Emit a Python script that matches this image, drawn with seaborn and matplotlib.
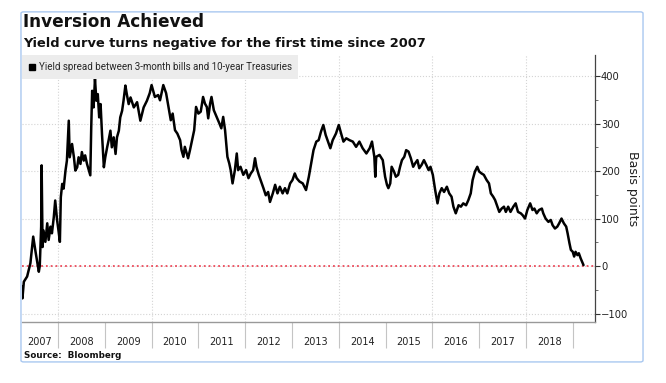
import matplotlib
matplotlib.use('Agg')
import matplotlib.pyplot as plt
import matplotlib.patches as mpatches
from matplotlib.lines import Line2D
from matplotlib.ticker import MultipleLocator
from matplotlib import font_manager
import seaborn as sns

# 3-month vs 10-year spread (decimal year, basis points)
years = [
    2007.23, 2007.24, 2007.27, 2007.34, 2007.41, 2007.47, 2007.52, 2007.59, 2007.61, 2007.64,
    2007.65, 2007.67, 2007.69, 2007.73, 2007.77, 2007.80, 2007.84, 2007.87, 2007.91, 2007.94,
    2007.98, 2008.01, 2008.04, 2008.06, 2008.09, 2008.12, 2008.16, 2008.19, 2008.23, 2008.25,
    2008.30, 2008.34, 2008.37, 2008.41, 2008.44, 2008.48, 2008.51, 2008.55, 2008.58, 2008.62,
    2008.66, 2008.69, 2008.71, 2008.73, 2008.76, 2008.79, 2008.82, 2008.85, 2008.88, 2008.91,
    2008.94, 2008.98, 2009.01, 2009.05, 2009.08, 2009.12, 2009.15, 2009.19, 2009.23, 2009.26,
    2009.30, 2009.33, 2009.37, 2009.40, 2009.44, 2009.47, 2009.51, 2009.55, 2009.62, 2009.69,
    2009.76, 2009.83, 2009.90, 2009.96, 2010.00, 2010.07, 2010.14, 2010.18, 2010.25, 2010.31,
    2010.36, 2010.41, 2010.45, 2010.50, 2010.55, 2010.61, 2010.64, 2010.68, 2010.71, 2010.75,
    2010.78, 2010.82, 2010.88, 2010.91, 2010.95, 2011.00, 2011.05, 2011.10, 2011.14, 2011.18,
    2011.21, 2011.25, 2011.28, 2011.33, 2011.39, 2011.45, 2011.49, 2011.53, 2011.57, 2011.60,
    2011.62, 2011.66, 2011.69, 2011.73, 2011.78, 2011.82, 2011.85, 2011.90, 2011.96, 2012.02,
    2012.07, 2012.12, 2012.17, 2012.21, 2012.24, 2012.29, 2012.33, 2012.39, 2012.44, 2012.49,
    2012.53, 2012.59, 2012.64, 2012.69, 2012.74, 2012.80, 2012.85, 2012.90, 2012.96, 2013.01,
    2013.06, 2013.10, 2013.16, 2013.23, 2013.30, 2013.36, 2013.41, 2013.46, 2013.52, 2013.57,
    2013.62, 2013.67, 2013.72, 2013.77, 2013.82, 2013.87, 2013.94, 2014.00, 2014.05, 2014.10,
    2014.16, 2014.23, 2014.30, 2014.37, 2014.44, 2014.51, 2014.59, 2014.66, 2014.71, 2014.76,
    2014.78, 2014.80, 2014.87, 2014.94, 2014.99, 2015.03, 2015.06, 2015.10, 2015.13, 2015.18,
    2015.22, 2015.27, 2015.31, 2015.35, 2015.40, 2015.44, 2015.49, 2015.54, 2015.59, 2015.63,
    2015.68, 2015.72, 2015.77, 2015.82, 2015.87, 2015.92, 2015.96, 2016.01, 2016.06, 2016.11,
    2016.15, 2016.20, 2016.25, 2016.31, 2016.36, 2016.41, 2016.45, 2016.50, 2016.56, 2016.61,
    2016.66, 2016.72, 2016.77, 2016.82, 2016.86, 2016.91, 2016.96, 2017.00, 2017.05, 2017.10,
    2017.16, 2017.21, 2017.25, 2017.30, 2017.34, 2017.39, 2017.43, 2017.48, 2017.53, 2017.57,
    2017.62, 2017.67, 2017.73, 2017.78, 2017.83, 2017.89, 2017.93, 2017.98, 2018.03, 2018.09,
    2018.14, 2018.18, 2018.23, 2018.28, 2018.34, 2018.37, 2018.42, 2018.48, 2018.53, 2018.57,
    2018.62, 2018.67, 2018.71, 2018.76, 2018.81, 2018.86, 2018.89, 2018.93, 2018.96, 2019.00,
    2019.03, 2019.06, 2019.10, 2019.13, 2019.17, 2019.20, 2019.23,
]
spread = [
    -43, -68, -33, -22, 6, 62, 30, -12, 0, 83,
    212, 40, 75, 51, 90, 55, 83, 69, 103, 138,
    97, 75, 51, 145, 173, 163, 201, 222, 306, 229,
    257, 229, 201, 208, 229, 215, 240, 222, 233, 215,
    201, 191, 292, 369, 334, 394, 348, 362, 313, 341,
    278, 208, 229, 250, 264, 285, 250, 271, 236, 271,
    285, 313, 327, 348, 380, 362, 341, 355, 334, 345,
    306, 334, 348, 364, 381, 356, 360, 349, 381, 364,
    335, 307, 321, 286, 279, 265, 244, 230, 251, 237,
    227, 244, 272, 286, 335, 321, 325, 356, 342, 335,
    311, 342, 356, 328, 314, 300, 290, 314, 286, 251,
    230, 216, 202, 174, 202, 237, 202, 209, 192, 202,
    185, 195, 202, 227, 209, 192, 181, 164, 149, 156,
    135, 153, 171, 153, 167, 153, 164, 153, 174, 181,
    195, 185, 178, 174, 160, 188, 216, 244, 262, 265,
    283, 297, 276, 262, 248, 265, 279, 297, 279, 262,
    269, 265, 262, 251, 262, 248, 237, 248, 262, 230,
    188, 230, 234, 223, 188, 171, 164, 174, 209, 199,
    188, 192, 209, 223, 230, 244, 241, 227, 209, 216,
    223, 206, 213, 223, 213, 202, 209, 192, 160, 132,
    153, 164, 156, 167, 153, 146, 125, 111, 128, 125,
    132, 128, 139, 153, 181, 199, 209, 199, 195, 192,
    181, 174, 153, 146, 139, 125, 114, 121, 125, 114,
    125, 114, 125, 132, 114, 111, 107, 100, 118, 132,
    118, 121, 111, 118, 121, 111, 100, 93, 97, 86,
    79, 83, 90, 100, 90, 83, 69, 48, 34, 30,
    20, 30, 23, 27, 16, 9, 2,
]
year_labels = ['2007', '2008', '2009', '2010', '2011', '2012',
               '2013', '2014', '2015', '2016', '2017', '2018']
y_ticks = [-100, 0, 100, 200, 300, 400]

sns.set_style('white')
plt.rcParams['font.family'] = ['DejaVu Sans']

installed = {f.name for f in font_manager.fontManager.ttflist}
narrow = 'DejaVu Sans'
for cand in ['Liberation Sans Narrow', 'Roboto', 'Lato']:
    if cand in installed:
        narrow = cand
        break

fig = plt.figure(figsize=(6.66, 3.83), dpi=100)
ax = fig.add_axes([0.033, 0.159, 0.860, 0.697])

x_left, x_right = 2007.23, 2019.47
ax.set_xlim(x_left, x_right)
ax.set_ylim(-118, 444)

# grid
ax.grid(axis='y', which='major', ls=':', color='#d4d4d4', lw=0.8)
for yr in range(2008, 2020, 2):
    ax.axvline(yr, ls=':', color='#d4d4d4', lw=0.8, zorder=0)
ax.axhline(0, color='#ec4a5a', ls=':', lw=1.3, zorder=1)

sns.lineplot(x=years, y=spread, ax=ax, color='black', lw=1.8,
             estimator=None, legend=False, zorder=3)

# x axis: year boundaries as ticks, labels centered in each year
ax.set_xticks(list(range(2008, 2020)))
label_pos = [(max(int(y), x_left) + int(y) + 1) / 2 for y in year_labels]
ax.set_xticks(label_pos, minor=True)
ax.set_xticklabels(year_labels, minor=True)
ax.tick_params(axis='x', which='major', length=19, width=0.8, color='#c4c4c4',
               labelbottom=False, bottom=True)
ax.tick_params(axis='x', which='minor', length=0, pad=11, labelsize=7,
               labelcolor='#222222', bottom=True)

# y axis on the right
ax.yaxis.tick_right()
ax.yaxis.set_label_position('right')
ax.set_yticks(y_ticks)
ax.yaxis.set_minor_locator(MultipleLocator(50))
ax.tick_params(axis='y', which='major', length=3.5, width=0.8, color='#333333',
               pad=1, labelsize=7.2, labelcolor='#222222', right=True)
ax.tick_params(axis='y', which='minor', length=2.5, width=0.6, color='#555555', right=True)
ax.set_ylabel('Basis points', rotation=270, va='bottom', labelpad=-1.5,
              fontsize=9, color='#222222')

for side in ['left', 'top']:
    ax.spines[side].set_visible(False)
ax.spines['right'].set_color('#444444')
ax.spines['right'].set_linewidth(0.9)
ax.spines['bottom'].set_color('#999999')
ax.spines['bottom'].set_linewidth(1.0)

handle = Line2D([], [], marker='s', color='black', ls='none', markersize=5)
leg = ax.legend([handle], ['Yield spread between 3-month bills and 10-year Treasuries'],
                loc='upper left', bbox_to_anchor=(0, 1), borderaxespad=0,
                frameon=True, fancybox=False, facecolor='#ececec', edgecolor='none',
                framealpha=1, handlelength=0.7, handletextpad=0.3, borderpad=0.7,
                prop={'family': narrow, 'size': 7.0})
leg.set_zorder(5)

fig.text(0.034, 1 - 22 / 383, 'Inversion Achieved', fontsize=12.2,
         fontweight='bold', va='center', ha='left', color='#111111')
fig.text(0.034, 1 - 43 / 383, 'Yield curve turns negative for the first time since 2007',
         fontsize=9.4, fontweight='bold', va='center', ha='left', color='#111111')
fig.text(0.036, 1 - 355 / 383, 'Source:  Bloomberg', fontsize=6.3,
         fontweight='bold', va='center', ha='left', color='#111111')

border = mpatches.FancyBboxPatch((0.0315, 0.055), 0.934, 0.914,
                                 boxstyle='round,pad=0,rounding_size=0.004',
                                 transform=fig.transFigure, fill=False,
                                 edgecolor='#a9c8f0', lw=1.0)
fig.patches.append(border)

fig.savefig('out.png', dpi=100)
